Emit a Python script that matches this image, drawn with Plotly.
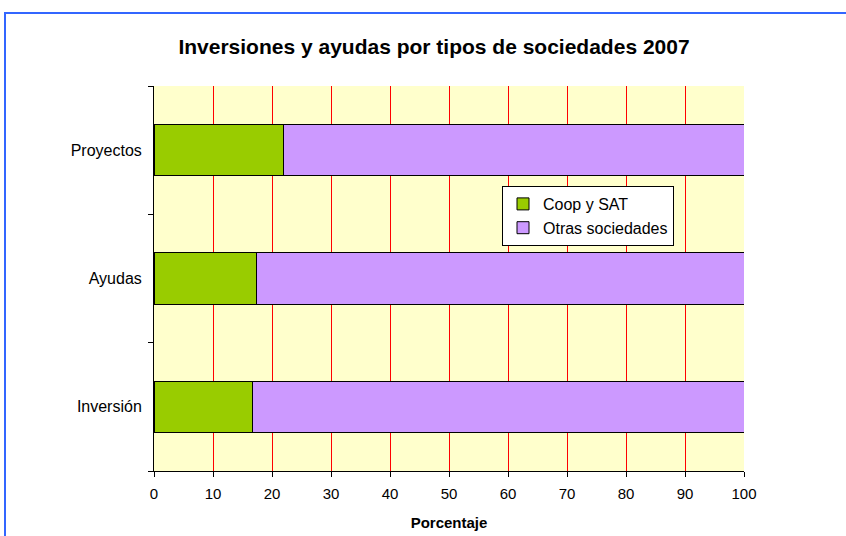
import plotly.graph_objects as go

categories = ["Inversión", "Ayudas", "Proyectos"]
coop_sat = [16.7, 17.4, 22.0]
otras = [83.3, 82.6, 78.0]
series_names = ["Coop y SAT", "Otras sociedades"]
x_ticks = list(range(0, 101, 10))

W, H = 846, 536
L, R, T, B = 154, 102, 86, 65
pw, ph = W - L - R, H - T - B

def px_x(x):
    return (x - L) / pw

def px_y(y):
    return (H - B - y) / ph

fig = go.Figure()
fig.add_trace(go.Bar(y=categories, x=coop_sat, name=series_names[0], orientation="h",
                     marker=dict(color="#99CC00", line=dict(color="#000000", width=1))))
fig.add_trace(go.Bar(y=categories, x=otras, name=series_names[1], orientation="h",
                     marker=dict(color="#CC99FF", line=dict(color="#000000", width=1))))

fig.update_layout(
    width=W, height=H,
    barmode="stack", bargap=0.6,
    margin=dict(l=L, r=R, t=T, b=B, autoexpand=False),
    paper_bgcolor="#FFFFFF", plot_bgcolor="#FFFFCC",
    font=dict(family="Liberation Sans, Arial", size=16, color="#000000"),
    title=dict(text="<b>Inversiones y ayudas por tipos de sociedades 2007</b>",
               x=434 / W, xanchor="center", y=1 - 47 / H, yanchor="middle",
               font=dict(size=21, family="Liberation Sans, Arial")),
    xaxis=dict(range=[0, 100], tickvals=x_ticks, ticks="outside", ticklen=5,
               tickcolor="#000000", showline=True, linecolor="#000000", linewidth=1,
               showgrid=True, gridcolor="#FF0000", gridwidth=1, zeroline=False,
               ticklabelstandoff=4,
               title=dict(text="<b>Porcentaje</b>", font=dict(size=15), standoff=16),
               tickfont=dict(size=15)),
    yaxis=dict(range=[-0.5, 2.5], type="category", tickson="boundaries", ticks="outside",
               ticklen=5, tickcolor="#000000", showline=True, linecolor="#000000",
               linewidth=1, showgrid=False, tickfont=dict(size=16),
               ticklabelstandoff=8),
    legend=dict(x=px_x(502), y=px_y(186), xanchor="left", yanchor="top",
                bgcolor="#FFFFFF", bordercolor="#000000", borderwidth=1,
                font=dict(size=16), traceorder="normal", itemwidth=30,
                tracegroupgap=0),
    showlegend=True,
    shapes=[dict(type="rect", xref="paper", yref="paper",
                 x0=px_x(5), x1=px_x(W + 20), y0=px_y(H + 20), y1=px_y(13),
                 line=dict(color="#3366FF", width=2), fillcolor="rgba(0,0,0,0)",
                 layer="below")],
)

fig.write_html("out.html", config={"displayModeBar": False},
               post_script="document.body.style.margin='0';")
